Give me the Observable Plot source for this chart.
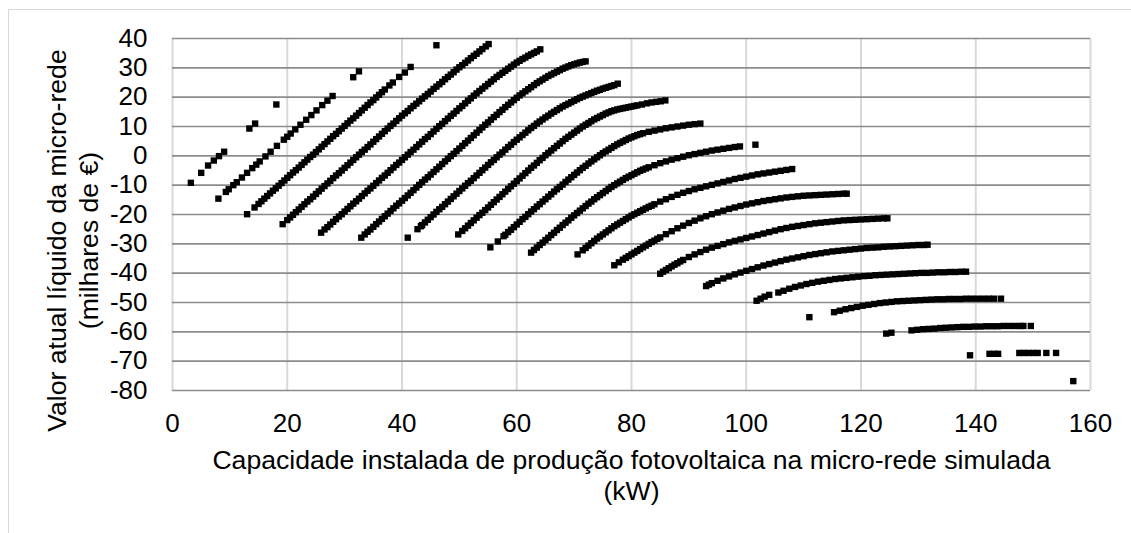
<!DOCTYPE html>
<html lang="pt">
<head>
<meta charset="utf-8">
<script src="https://cdn.jsdelivr.net/npm/d3@7"></script>
<script src="https://cdn.jsdelivr.net/npm/@observablehq/plot@0.6"></script>
<style>
  html, body { margin: 0; padding: 0; background: #fff; overflow: hidden; }
  #frame { position: absolute; left: 8px; top: 9px; width: 1300px; height: 700px; border: 1px solid #d9d9d9; }
  #chart { position: absolute; left: 0; top: 0; }
</style>
</head>
<body>
<div id="frame"></div>
<div id="chart"></div>
<script>
// Axis ticks
const xTicks = [0, 20, 40, 60, 80, 100, 120, 140, 160];
const yTicks = [-80, -70, -60, -50, -40, -30, -20, -10, 0, 10, 20, 30, 40];

// Axis titles
const xTitle = ["Capacidade instalada de produção fotovoltaica na micro-rede simulada", "(kW)"];
const yTitle = ["Valor atual líquido da micro-rede", "(milhares de €)"];

// Simulated micro-grids: [installed PV capacity (kW), net present value (thousand €)]
const series01 = [[3.2,-9.2],[5.0,-5.8],[6.2,-3.3],[7.2,-1.6],[8.1,-0.1],[9.0,1.4],[13.4,9.3],[14.4,11.0],[18.1,17.5],[31.5,26.8],[32.5,28.8],[46.0,37.7]];

const series02 = [[8.0,-14.6],[9.3,-12.3],[9.8,-11.4],[10.6,-10.0],[11.2,-9.0],[12.1,-7.4],[13.0,-5.8],[13.9,-4.2],[14.6,-3.0],[15.2,-1.9],[16.2,-0.2],[17.1,1.4],[18.2,3.4],[19.4,5.5],[20.0,6.5],[20.6,7.6],[21.4,9.0],[22.3,10.6],[23.3,12.3],[24.2,13.9],[25.1,15.5],[26.1,17.3],[27.0,18.8],[27.9,20.4]];

const series03 = [[13.0,-19.9],[14.3,-17.6],[15.0,-16.4],[15.5,-15.5],[16.0,-14.6],[16.5,-13.7],[17.0,-12.8],[17.5,-11.9],[18.0,-11.1],[18.5,-10.2],[19.0,-9.3],[19.5,-8.4],[20.0,-7.5],[20.5,-6.6],[21.0,-5.7],[21.5,-4.9],[22.0,-4.0],[22.5,-3.1],[23.0,-2.2],[23.5,-1.3],[24.0,-0.4],[24.5,0.4],[25.0,1.3],[25.5,2.2],[26.0,3.1],[26.5,4.0],[27.0,4.9],[27.5,5.8],[28.0,6.7],[28.5,7.5],[29.0,8.4],[29.5,9.3],[30.0,10.2],[30.5,11.1],[31.0,12.0],[31.5,12.8],[32.0,13.7],[32.5,14.6],[33.0,15.5],[33.5,16.4],[34.0,17.3],[34.5,18.2],[35.0,19.0],[35.5,19.9],[36.0,20.8],[36.5,21.7],[37.0,22.6],[37.8,24.0],[38.4,25.0],[39.5,26.9],[40.5,28.4],[41.5,30.3]];

const series04 = [[19.2,-23.3],[20.0,-21.9],[20.5,-21.0],[21.0,-20.1],[21.5,-19.2],[22.0,-18.3],[22.5,-17.4],[23.0,-16.5],[23.5,-15.6],[24.0,-14.8],[24.5,-13.9],[25.0,-13.0],[25.5,-12.1],[26.0,-11.2],[26.5,-10.3],[27.0,-9.4],[27.5,-8.5],[28.0,-7.6],[28.5,-6.7],[29.0,-5.9],[29.5,-5.0],[30.0,-4.1],[30.5,-3.2],[31.0,-2.3],[31.5,-1.4],[32.0,-0.5],[32.5,0.4],[33.0,1.3],[33.5,2.1],[34.0,3.0],[34.5,3.9],[35.0,4.8],[35.5,5.7],[36.0,6.6],[36.5,7.5],[37.0,8.4],[37.5,9.3],[38.0,10.2],[38.5,11.0],[39.0,11.9],[39.5,12.8],[40.0,13.7],[40.5,14.5],[41.0,15.3],[41.5,16.2],[42.0,17.0],[42.5,17.8],[43.0,18.6],[43.5,19.5],[44.0,20.3],[44.5,21.1],[45.0,21.9],[45.5,22.8],[46.0,23.6],[46.5,24.4],[47.0,25.2],[47.5,26.1],[48.0,26.9],[48.5,27.7],[49.0,28.5],[49.5,29.4],[50.0,30.2],[50.5,30.9],[51.0,31.7],[51.5,32.5],[52.0,33.3],[52.5,34.1],[53.0,34.8],[53.5,35.6],[54.0,36.4],[54.6,37.3],[55.1,38.1]];

const series05 = [[25.9,-26.2],[26.5,-25.1],[27.0,-24.3],[27.5,-23.4],[28.0,-22.5],[28.5,-21.6],[29.0,-20.7],[29.5,-19.9],[30.0,-19.0],[30.5,-18.1],[31.0,-17.2],[31.5,-16.3],[32.0,-15.5],[32.5,-14.6],[33.0,-13.7],[33.5,-12.8],[34.0,-11.9],[34.5,-11.1],[35.0,-10.2],[35.5,-9.3],[36.0,-8.4],[36.5,-7.5],[37.0,-6.7],[37.5,-5.8],[38.0,-4.9],[38.5,-4.0],[39.0,-3.1],[39.5,-2.3],[40.0,-1.4],[40.5,-0.5],[41.0,0.4],[41.5,1.3],[42.0,2.1],[42.5,3.0],[43.0,3.9],[43.5,4.8],[44.0,5.7],[44.5,6.5],[45.0,7.4],[45.5,8.3],[46.0,9.2],[46.5,10.1],[47.0,10.9],[47.5,11.8],[48.0,12.7],[48.5,13.6],[49.0,14.4],[49.5,15.3],[50.0,16.2],[50.5,17.0],[51.0,17.9],[51.5,18.8],[52.0,19.6],[52.5,20.5],[53.0,21.3],[53.5,22.1],[54.0,22.9],[54.5,23.7],[55.0,24.5],[55.5,25.3],[56.0,26.1],[56.5,26.9],[57.0,27.6],[57.5,28.3],[58.0,29.0],[58.5,29.7],[59.0,30.4],[59.5,31.1],[60.0,31.8],[60.5,32.4],[61.0,33.0],[61.5,33.5],[62.0,34.1],[62.5,34.6],[63.0,35.1],[63.5,35.6],[64.1,36.3]];

const series06 = [[32.9,-27.9],[33.5,-26.8],[34.0,-25.9],[34.5,-25.1],[35.0,-24.2],[35.5,-23.3],[36.0,-22.4],[36.5,-21.5],[37.0,-20.6],[37.5,-19.7],[38.0,-18.8],[38.5,-17.9],[39.0,-17.0],[39.5,-16.2],[40.0,-15.3],[40.5,-14.4],[41.0,-13.5],[41.5,-12.6],[42.0,-11.7],[42.5,-10.8],[43.0,-9.9],[43.5,-9.0],[44.0,-8.1],[44.5,-7.3],[45.0,-6.4],[45.5,-5.5],[46.0,-4.6],[46.5,-3.7],[47.0,-2.8],[47.5,-1.9],[48.0,-1.0],[48.5,-0.1],[49.0,0.7],[49.5,1.6],[50.0,2.5],[50.5,3.4],[51.0,4.3],[51.5,5.2],[52.0,6.1],[52.5,7.0],[53.0,7.9],[53.5,8.8],[54.0,9.7],[54.5,10.6],[55.0,11.4],[55.5,12.3],[56.0,13.2],[56.5,14.0],[57.0,14.9],[57.5,15.7],[58.0,16.6],[58.5,17.4],[59.0,18.2],[59.5,19.0],[60.0,19.8],[60.5,20.6],[61.0,21.3],[61.5,22.0],[62.0,22.7],[62.5,23.4],[63.0,24.1],[63.5,24.8],[64.0,25.4],[64.5,26.0],[65.0,26.6],[65.5,27.2],[66.0,27.7],[66.5,28.2],[67.0,28.7],[67.5,29.2],[68.0,29.7],[68.5,30.1],[69.0,30.5],[69.5,30.9],[70.0,31.2],[70.5,31.5],[71.0,31.8],[71.5,32.0],[72.0,32.2]];

const series07 = [[41.0,-27.9],[42.7,-25.0],[43.3,-24.0],[43.5,-23.6],[44.0,-22.7],[44.5,-21.8],[45.0,-20.9],[45.5,-20.0],[46.0,-19.1],[46.5,-18.2],[47.0,-17.4],[47.5,-16.5],[48.0,-15.6],[48.5,-14.7],[49.0,-13.8],[49.5,-12.9],[50.0,-12.0],[50.5,-11.1],[51.0,-10.2],[51.5,-9.3],[52.0,-8.5],[52.5,-7.6],[53.0,-6.7],[53.5,-5.8],[54.0,-4.9],[54.5,-4.0],[55.0,-3.1],[55.5,-2.2],[56.0,-1.4],[56.5,-0.5],[57.0,0.4],[57.5,1.2],[58.0,2.1],[58.5,3.0],[59.0,3.8],[59.5,4.7],[60.0,5.5],[60.5,6.3],[61.0,7.1],[61.5,7.9],[62.0,8.7],[62.5,9.5],[63.0,10.2],[63.5,11.0],[64.0,11.7],[64.5,12.4],[65.0,13.1],[65.5,13.7],[66.0,14.4],[66.5,15.0],[67.0,15.6],[67.5,16.2],[68.0,16.8],[68.5,17.3],[69.0,17.8],[69.5,18.3],[70.0,18.8],[70.5,19.3],[71.0,19.8],[71.5,20.2],[72.0,20.6],[72.5,21.0],[73.0,21.4],[73.5,21.8],[74.0,22.2],[74.5,22.5],[75.0,22.9],[75.5,23.2],[76.0,23.5],[76.5,23.8],[77.0,24.1],[77.6,24.6]];

const series08 = [[49.8,-26.8],[50.5,-25.6],[51.0,-24.7],[51.5,-23.8],[52.0,-22.9],[52.5,-22.0],[53.0,-21.1],[53.5,-20.2],[54.0,-19.4],[54.5,-18.5],[55.0,-17.6],[55.5,-16.7],[56.0,-15.8],[56.5,-14.9],[57.0,-14.0],[57.5,-13.1],[58.0,-12.2],[58.5,-11.3],[59.0,-10.4],[59.5,-9.5],[60.0,-8.6],[60.5,-7.7],[61.0,-6.8],[61.5,-5.9],[62.0,-5.0],[62.5,-4.1],[63.0,-3.3],[63.5,-2.4],[64.0,-1.5],[64.5,-0.7],[65.0,0.2],[65.5,1.0],[66.0,1.8],[66.5,2.6],[67.0,3.4],[67.5,4.2],[68.0,5.0],[68.5,5.8],[69.0,6.5],[69.5,7.2],[70.0,7.9],[70.5,8.6],[71.0,9.3],[71.5,10.0],[72.0,10.6],[72.5,11.2],[73.0,11.8],[73.5,12.4],[74.0,12.9],[74.5,13.4],[75.0,13.9],[75.5,14.4],[76.0,14.8],[76.5,15.2],[77.0,15.5],[77.5,15.8],[78.0,16.0],[78.5,16.2],[79.0,16.4],[79.5,16.6],[80.0,16.8],[80.5,17.0],[81.0,17.2],[81.8,17.5],[82.7,17.9],[83.5,18.2],[84.3,18.4],[85.1,18.6],[85.9,18.9]];

const series09 = [[55.4,-31.2],[56.7,-29.2],[57.7,-27.4],[58.0,-26.9],[58.5,-26.0],[59.0,-25.2],[59.5,-24.3],[60.0,-23.4],[60.5,-22.5],[61.0,-21.6],[61.5,-20.8],[62.0,-19.9],[62.5,-19.0],[63.0,-18.2],[63.5,-17.3],[64.0,-16.5],[64.5,-15.6],[65.0,-14.8],[65.5,-13.9],[66.0,-13.1],[66.5,-12.2],[67.0,-11.4],[67.5,-10.6],[68.0,-9.8],[68.5,-8.9],[69.0,-8.1],[69.5,-7.3],[70.0,-6.5],[70.5,-5.7],[71.0,-4.9],[71.5,-4.1],[72.0,-3.4],[72.5,-2.6],[73.0,-1.9],[73.5,-1.2],[74.0,-0.5],[74.5,0.2],[75.0,0.9],[75.5,1.5],[76.0,2.1],[76.5,2.7],[77.0,3.3],[77.5,3.9],[78.0,4.4],[78.5,4.9],[79.0,5.4],[79.5,5.9],[80.0,6.3],[80.5,6.7],[81.0,7.1],[81.5,7.4],[82.0,7.7],[83.0,8.2],[84.0,8.6],[85.0,9.0],[86.0,9.4],[87.0,9.7],[88.0,10.0],[89.0,10.3],[90.0,10.6],[91.0,10.8],[92.0,11.0]];

const series10 = [[62.5,-33.0],[63.0,-32.1],[63.5,-31.3],[64.0,-30.4],[64.5,-29.6],[65.0,-28.7],[65.5,-27.9],[66.0,-27.0],[66.5,-26.2],[67.0,-25.3],[67.5,-24.5],[68.0,-23.6],[68.5,-22.8],[69.0,-22.0],[69.5,-21.1],[70.0,-20.3],[70.5,-19.5],[71.0,-18.7],[71.5,-17.9],[72.0,-17.1],[72.5,-16.3],[73.0,-15.6],[73.5,-14.8],[74.0,-14.1],[74.5,-13.4],[75.0,-12.7],[75.5,-12.0],[76.0,-11.3],[76.5,-10.6],[77.0,-10.0],[77.5,-9.4],[78.0,-8.8],[78.5,-8.2],[79.0,-7.6],[79.5,-7.1],[80.0,-6.6],[80.5,-6.1],[81.0,-5.6],[81.5,-5.1],[82.0,-4.7],[82.5,-4.3],[83.0,-3.9],[84.0,-3.2],[85.0,-2.5],[86.0,-1.9],[87.0,-1.3],[88.0,-0.8],[89.0,-0.3],[90.0,0.2],[91.0,0.6],[92.0,1.0],[93.0,1.4],[94.0,1.8],[95.0,2.1],[96.0,2.4],[97.0,2.7],[98.0,3.0],[98.9,3.2],[101.6,3.8]];

const series11 = [[70.6,-33.6],[71.5,-32.2],[72.0,-31.4],[72.5,-30.6],[73.0,-29.8],[73.5,-29.0],[74.0,-28.2],[74.5,-27.5],[75.0,-26.8],[75.5,-26.1],[76.0,-25.4],[76.5,-24.7],[77.0,-24.0],[77.5,-23.4],[78.0,-22.8],[78.5,-22.2],[79.0,-21.6],[79.5,-21.0],[80.0,-20.4],[80.5,-19.9],[81.0,-19.4],[81.5,-18.9],[82.0,-18.4],[82.5,-17.9],[83.0,-17.4],[83.5,-17.0],[84.0,-16.5],[85.0,-15.6],[86.0,-14.8],[87.0,-14.0],[88.0,-13.3],[89.0,-12.6],[90.0,-12.0],[91.0,-11.4],[92.0,-10.9],[93.0,-10.4],[94.0,-9.9],[95.0,-9.4],[96.0,-8.9],[97.0,-8.4],[98.0,-7.9],[99.0,-7.5],[100.0,-7.1],[101.0,-6.7],[102.0,-6.3],[103.0,-6.0],[104.0,-5.7],[105.0,-5.4],[106.0,-5.1],[107.0,-4.8],[108.0,-4.5]];

const series12 = [[77.0,-37.3],[77.8,-36.3],[78.5,-35.4],[79.0,-34.8],[79.5,-34.2],[80.0,-33.6],[80.5,-33.0],[81.0,-32.4],[81.5,-31.8],[82.0,-31.2],[82.5,-30.6],[83.0,-30.0],[83.5,-29.4],[84.0,-28.9],[84.5,-28.3],[85.0,-27.8],[86.0,-26.7],[87.0,-25.7],[88.0,-24.7],[89.0,-23.8],[90.0,-22.9],[91.0,-22.1],[92.0,-21.3],[93.0,-20.6],[94.0,-19.9],[95.0,-19.3],[96.0,-18.7],[97.0,-18.1],[98.0,-17.6],[99.0,-17.1],[100.0,-16.6],[101.0,-16.2],[102.0,-15.8],[103.0,-15.4],[104.0,-15.1],[105.0,-14.8],[106.0,-14.5],[107.0,-14.2],[108.0,-14.0],[109.0,-13.8],[110.0,-13.6],[111.0,-13.5],[112.0,-13.4],[113.0,-13.3],[114.0,-13.2],[115.0,-13.1],[116.0,-13.0],[117.0,-12.9],[117.5,-12.9]];

const series13 = [[85.0,-40.2],[85.5,-39.5],[86.0,-38.9],[86.5,-38.3],[87.0,-37.7],[87.5,-37.1],[88.0,-36.6],[88.5,-36.0],[89.0,-35.5],[90.0,-34.5],[91.0,-33.6],[92.0,-32.8],[93.0,-32.0],[94.0,-31.3],[95.0,-30.7],[96.0,-30.1],[97.0,-29.5],[98.0,-29.0],[99.0,-28.5],[100.0,-28.0],[101.0,-27.5],[102.0,-27.0],[103.0,-26.5],[104.0,-26.0],[105.0,-25.5],[106.0,-25.0],[107.0,-24.6],[108.0,-24.2],[109.0,-23.9],[110.0,-23.6],[111.0,-23.3],[112.0,-23.0],[113.0,-22.8],[114.0,-22.6],[115.0,-22.4],[116.0,-22.2],[117.0,-22.0],[118.0,-21.9],[119.0,-21.8],[120.0,-21.7],[121.0,-21.6],[122.0,-21.5],[123.0,-21.4],[124.0,-21.3],[124.6,-21.3]];

const series14 = [[93.0,-44.4],[93.5,-43.9],[94.0,-43.4],[95.0,-42.6],[96.0,-41.8],[97.0,-41.1],[98.0,-40.4],[99.0,-39.8],[100.0,-39.2],[101.0,-38.6],[102.0,-38.0],[103.0,-37.4],[104.0,-36.9],[105.0,-36.4],[106.0,-35.9],[107.0,-35.4],[108.0,-35.0],[109.0,-34.6],[110.0,-34.2],[111.0,-33.8],[112.0,-33.5],[113.0,-33.2],[114.0,-32.9],[115.0,-32.6],[116.0,-32.4],[117.0,-32.2],[118.0,-32.0],[119.0,-31.8],[120.0,-31.6],[121.0,-31.4],[122.0,-31.3],[123.0,-31.2],[124.0,-31.0],[125.0,-30.9],[126.0,-30.8],[127.0,-30.7],[128.0,-30.6],[129.0,-30.5],[130.0,-30.4],[131.0,-30.4],[131.6,-30.3]];

const series15 = [[101.8,-49.4],[102.5,-48.7],[103.2,-48.0],[104.0,-47.4],[105.6,-46.6],[106.5,-46.0],[107.5,-45.3],[108.5,-44.7],[109.5,-44.2],[110.5,-43.7],[111.5,-43.3],[112.5,-42.9],[113.5,-42.6],[114.5,-42.3],[115.5,-42.0],[116.5,-41.8],[117.5,-41.6],[118.5,-41.4],[119.5,-41.2],[120.5,-41.0],[121.5,-40.9],[122.5,-40.7],[123.5,-40.6],[124.5,-40.5],[125.5,-40.4],[126.5,-40.3],[127.5,-40.2],[128.5,-40.1],[129.5,-40.0],[130.5,-39.9],[131.5,-39.9],[132.5,-39.8],[133.5,-39.7],[134.5,-39.7],[135.5,-39.6],[136.5,-39.6],[137.5,-39.5],[138.3,-39.5]];

const series16 = [[111.0,-55.0],[115.3,-53.3],[116.3,-52.8],[117.3,-52.3],[118.3,-51.9],[119.3,-51.5],[120.3,-51.1],[121.3,-50.8],[122.3,-50.5],[123.3,-50.2],[124.3,-50.0],[125.3,-49.8],[126.3,-49.6],[127.3,-49.5],[128.3,-49.4],[129.3,-49.3],[130.3,-49.2],[131.3,-49.1],[132.3,-49.0],[133.3,-48.9],[134.3,-48.9],[135.3,-48.8],[136.3,-48.8],[137.3,-48.8],[138.3,-48.7],[139.3,-48.7],[140.3,-48.7],[141.3,-48.7],[142.3,-48.7],[143.2,-48.7],[144.4,-48.7]];

const series17 = [[124.4,-60.6],[125.3,-60.3],[128.8,-59.5],[129.8,-59.3],[130.8,-59.1],[131.8,-59.0],[132.8,-58.9],[133.8,-58.7],[134.8,-58.6],[135.8,-58.5],[136.8,-58.4],[137.8,-58.3],[138.8,-58.3],[139.8,-58.2],[140.8,-58.2],[141.8,-58.1],[142.8,-58.1],[143.8,-58.1],[144.8,-58.0],[145.8,-58.0],[146.8,-58.0],[147.8,-58.0],[148.3,-58.0],[149.6,-58.0]];

const series18 = [[139.0,-68.0],[142.4,-67.5],[143.2,-67.5],[143.9,-67.5],[147.6,-67.2],[148.4,-67.2],[149.2,-67.2],[150.0,-67.2],[150.8,-67.2],[152.3,-67.2],[154.0,-67.2]];

const series19 = [[157.0,-76.8]];

const allSeries = [series01, series02, series03, series04, series05, series06, series07, series08, series09, series10,
                   series11, series12, series13, series14, series15, series16, series17, series18, series19];
const points = allSeries.flatMap((s, i) => s.map(([kw, npv]) => ({serie: i + 1, kw, npv})));

const font = "'Liberation Sans', Arial, Helvetica, sans-serif";

const chart = Plot.plot({
  width: 1131,
  height: 533,
  marginLeft: 172,
  marginRight: 41,
  marginTop: 38,
  marginBottom: 143,
  style: {fontFamily: font, fontSize: "26px", color: "#000", background: "transparent", overflow: "visible"},
  x: {domain: [0, 160], ticks: xTicks, tickSize: 0, tickPadding: 23, tickFormat: d => String(d), label: null},
  y: {domain: [-80, 40], ticks: yTicks, tickSize: 0, tickPadding: 25, tickFormat: d => String(d), label: null},
  marks: [
    Plot.ruleX(xTicks, {stroke: "#d9d9d9", strokeWidth: 2}),
    Plot.ruleY(yTicks, {stroke: "#8c8c8c", strokeWidth: 1.6}),
    Plot.dot(points, {x: "kw", y: "npv", symbol: "square", r: 3.6, fill: "#000"}),
    Plot.text([xTitle[0]], {frameAnchor: "bottom", textAnchor: "middle", lineAnchor: "bottom", dy: 78, fontSize: 26.6, fill: "#000"}),
    Plot.text([xTitle[1]], {frameAnchor: "bottom", textAnchor: "middle", lineAnchor: "bottom", dy: 109, fontSize: 26.6, fill: "#000"}),
    Plot.text([yTitle[0]], {frameAnchor: "left", textAnchor: "middle", lineAnchor: "bottom", rotate: -90, dx: -106.5, dy: 26, fontSize: 26.6, fill: "#000"}),
    Plot.text([yTitle[1]], {frameAnchor: "left", textAnchor: "middle", lineAnchor: "bottom", rotate: -90, dx: -74.5, dy: 26, fontSize: 26.6, fill: "#000"})
  ]
});

document.getElementById("chart").append(chart);
</script>
</body>
</html>
